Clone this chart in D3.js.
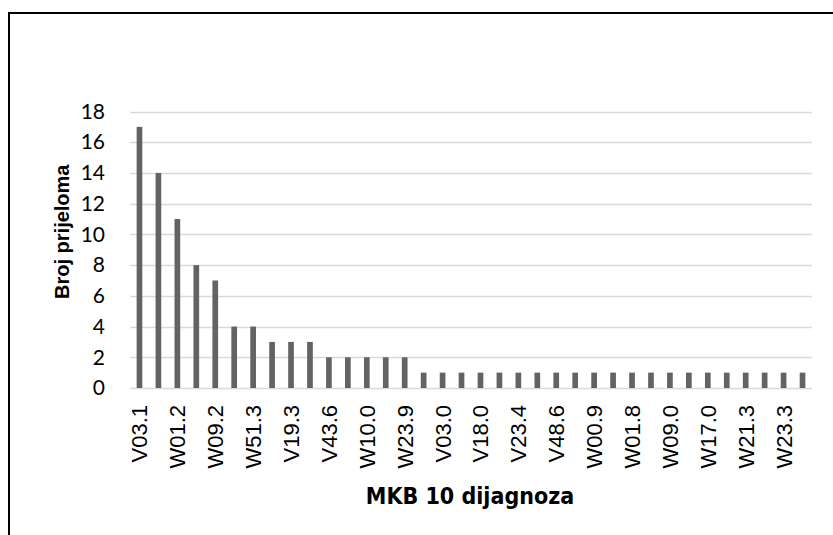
<!DOCTYPE html>
<html>
<head>
<meta charset="utf-8">
<script src="https://cdn.jsdelivr.net/npm/d3@7/dist/d3.min.js"></script>
<style>
  html, body { margin: 0; padding: 0; background: #ffffff; }
  svg { display: block; }
</style>
</head>
<body>
<svg id="chart" width="833" height="535"></svg>
<script>
// Categories (every other one is shown on the axis; the hidden ones are placeholders)
const categories = [
  "V03.1", "V03.9", "W01.2", "W19.9", "W09.2", "W10.9", "W51.3", "V23.9",
  "V19.3", "W18.0", "V43.6", "V48.9", "W10.0", "W17.9", "W23.9", "V01.9",
  "V03.0", "V09.2", "V18.0", "V19.0", "V23.4", "V29.9", "V48.6", "V49.9",
  "W00.9", "W01.0", "W01.8", "W06.0", "W09.0", "W11.0", "W17.0", "W20.9",
  "W21.3", "W22.0", "W23.3", "W34.0"
];
const values = [
  17, 14, 11, 8, 7, 4, 4, 3, 3, 3, 2, 2, 2, 2, 2,
  1, 1, 1, 1, 1, 1, 1, 1, 1, 1, 1, 1, 1, 1, 1, 1, 1, 1, 1, 1, 1
];
const yTicks = [0, 2, 4, 6, 8, 10, 12, 14, 16, 18];
const yTitle = "Broj prijeloma";
const xTitle = "MKB 10 dijagnoza";

const svg = d3.select("#chart");
svg.append("rect").attr("x", 0).attr("y", 0).attr("width", 833).attr("height", 535).attr("fill", "#fff");

// outer border (extends beyond the visible frame on right and bottom)
svg.append("rect")
  .attr("x", 9).attr("y", 13).attr("width", 900).attr("height", 600)
  .attr("fill", "none").attr("stroke", "#000").attr("stroke-width", 2);

const plotLeft = 130, plotRight = 812, plotTop = 111.5, plotBottom = 388;

const x = d3.scaleBand().domain(categories).range([plotLeft, plotRight]).paddingInner(0.7).paddingOuter(0.35);
const y = d3.scaleLinear().domain([0, 18]).range([plotBottom, plotTop]);

// gridlines
svg.append("g").selectAll("line").data(yTicks).join("line")
  .attr("x1", plotLeft).attr("x2", plotRight)
  .attr("y1", d => Math.round(y(d)) + 0.5).attr("y2", d => Math.round(y(d)) + 0.5)
  .attr("stroke", "#d9d9d9").attr("stroke-width", 1.3);

// bars
svg.append("g").selectAll("rect").data(values).join("rect")
  .attr("x", (d, i) => x(categories[i]))
  .attr("width", x.bandwidth())
  .attr("y", d => y(d))
  .attr("height", d => y(0) - y(d))
  .attr("fill", "#636363");

// y axis
const yAxis = d3.axisLeft(y).tickValues(yTicks).tickSize(0).tickPadding(0);
const gy = svg.append("g").attr("transform", `translate(${plotLeft - 25},0)`)
  .attr("font-size", 21).attr("font-family", "Lato, 'Open Sans', sans-serif")
  .call(yAxis);
gy.attr("font-size", 21).attr("font-family", "Lato, 'Open Sans', sans-serif");
gy.select(".domain").remove();
gy.selectAll("text")
  .attr("fill", "#000")
  .style("font-family", "Lato, 'Open Sans', sans-serif")
  .style("font-size", "21px");

// x axis
const xAxis = d3.axisBottom(x)
  .tickValues(categories.filter((c, i) => i % 2 === 0))
  .tickSize(0).tickPadding(0);
const gx = svg.append("g").attr("transform", `translate(0,${plotBottom})`).call(xAxis);
gx.attr("font-size", 22).attr("font-family", "'Liberation Sans', Arial, sans-serif");
gx.select(".domain").remove();
gx.selectAll("text")
  .attr("fill", "#000")
  .attr("transform", "rotate(-90)")
  .attr("text-anchor", "end")
  .attr("x", -17).attr("y", 0).attr("dy", "0.36em")
  .style("font-family", "'Liberation Sans', Arial, sans-serif")
  .style("font-size", "22px");

// axis titles
svg.append("text")
  .attr("transform", `translate(69,${(plotTop + plotBottom) / 2 - 18}) rotate(-90)`)
  .attr("text-anchor", "middle")
  .style("font-family", "'Liberation Sans', Arial, sans-serif")
  .style("font-weight", "bold")
  .style("font-size", "20px")
  .text(yTitle);

svg.append("text")
  .attr("x", 470).attr("y", 504)
  .attr("text-anchor", "middle")
  .style("font-family", "'DejaVu Sans Condensed', sans-serif")
  .style("font-weight", "bold")
  .style("font-size", "23px")
  .text(xTitle);
</script>
</body>
</html>
